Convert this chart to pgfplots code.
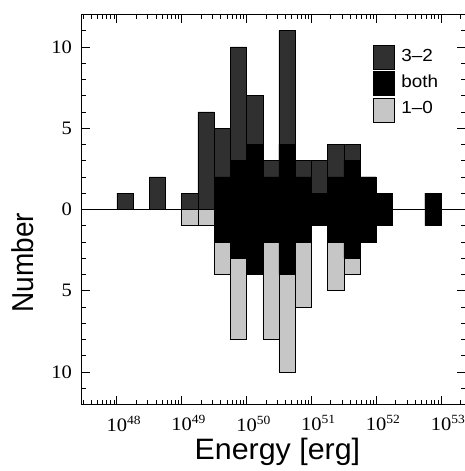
\documentclass[border=0pt]{standalone}
\usepackage{pgfplots}
\pgfplotsset{compat=1.18}
\usepackage{pgfplotstable}
\usepackage{fontspec}
\setmainfont{Liberation Sans}
\newfontfamily\serif{Liberation Serif}
\definecolor{c32}{RGB}{48,48,48}
\definecolor{c10}{RGB}{198,198,198}
\newcommand{\dec}[1]{\scalebox{1.08}[1]{10\rlap{\raisebox{7pt}{\fontsize{12.5}{12.5}\selectfont #1}}}}

% left bin edges (0.25 dex bins); top = all 3-2 sources, bot = all 1-0 sources, both = detected in both
\pgfplotstableread{
x            top  both  bot
1e48         1    0     0
1.778279e48  0    0     0
3.162278e48  2    0     0
5.623413e48  0    0     0
1e49         1    0     -1
1.778279e49  6    0     -1
3.162278e49  5    2     -4
5.623413e49  10   3     -8
1e50         7    4     -4
1.778279e50  3    2     -8
3.162278e50  11   4     -10
5.623413e50  3    2     -6
1e51         3    1     -1
1.778279e51  4    2     -5
3.162278e51  4    3     -4
5.623413e51  2    2     -2
1e52         1    1     -1
1.778279e52  0    0     0
3.162278e52  0    0     0
5.623413e52  1    1     -1
1e53         0    0     0
}\data

\begin{document}
\begin{tikzpicture}
\path[use as bounding box] (-81pt,-66.5pt) rectangle (384pt,404.5pt);
\begin{axis}[
  scale only axis, width=385pt, height=390pt,
  xmode=log, xmin=2.8e47, xmax=2.43e53, ymin=-12, ymax=12,
  axis line style={line width=0.9pt},
  tick align=inside, major tick length=9pt, minor tick length=5pt,
  every tick/.style={black, line width=0.8pt},
  xtick={1e48,1e49,1e50,1e51,1e52,1e53},
  xticklabels={\dec{48},\dec{49},\dec{50},\dec{51},\dec{52},\dec{53}},
  minor xtick={3e47,4e47,5e47,6e47,7e47,8e47,9e47,
    2e48,3e48,4e48,5e48,6e48,7e48,8e48,9e48,
    2e49,3e49,4e49,5e49,6e49,7e49,8e49,9e49,
    2e50,3e50,4e50,5e50,6e50,7e50,8e50,9e50,
    2e51,3e51,4e51,5e51,6e51,7e51,8e51,9e51,
    2e52,3e52,4e52,5e52,6e52,7e52,8e52,9e52,2e53},
  ytick={-10,-5,0,5,10},
  yticklabels={\scalebox{1.08}[1]{10},\scalebox{1.08}[1]{5},\scalebox{1.08}[1]{0},\scalebox{1.08}[1]{5},\scalebox{1.08}[1]{10}},
  minor ytick={-12,-11,...,12},
  xticklabel style={font=\serif\fontsize{19}{19}\selectfont, anchor=north, inner sep=0pt},
  xticklabel shift=11pt,
  yticklabel style={font=\serif\fontsize{19}{19}\selectfont, anchor=east, inner sep=0pt, xshift=-9pt},
  xlabel={\scalebox{1.03}[1]{Energy [erg]}}, ylabel={\scalebox{1}[1.08]{Number}},
  xlabel style={font=\fontsize{29.5}{29.5}\selectfont, at={(axis description cs:0.51,-0.142)}, anchor=base},
  ylabel style={font=\fontsize{28}{28}\selectfont, at={(axis description cs:-0.151,0.364)}, anchor=center},
  legend style={at={(rel axis cs:0.758,0.922)}, anchor=north west, draw=none, fill=none,
    inner sep=0pt, row sep=0pt, font=\fontsize{17.5}{17.5}\selectfont,
    nodes={inner sep=0pt, text height=14pt, text depth=10pt},
    /tikz/every odd column/.append style={column sep=7pt}},
  legend cell align=left,
  legend image code/.code={\fill[#1] (0pt,-10pt) rectangle (21pt,14pt);},
]
\addlegendimage{fill=c32}\addlegendentry{\scalebox{1.08}[1]{3--2}}
\addlegendimage{fill=black}\addlegendentry{\scalebox{1.08}[1]{both}}
\addlegendimage{fill=c10}\addlegendentry{\scalebox{1.08}[1]{1--0}}
\addplot[ybar interval, fill=c32, draw=black, line width=0.5pt, forget plot] table[x=x, y=top] {\data};
\addplot[ybar interval, fill=c10, draw=black, line width=0.5pt, forget plot] table[x=x, y=bot] {\data};
\addplot[ybar interval, fill=black, draw=black, line width=0.5pt, forget plot] table[x=x, y=both] {\data};
\addplot[ybar interval, fill=black, draw=black, line width=0.5pt, forget plot] table[x=x, y expr=-\thisrow{both}] {\data};
\draw[line width=0.9pt] (rel axis cs:0,0.5) -- (rel axis cs:1,0.5);
\end{axis}
\end{tikzpicture}
\end{document}
